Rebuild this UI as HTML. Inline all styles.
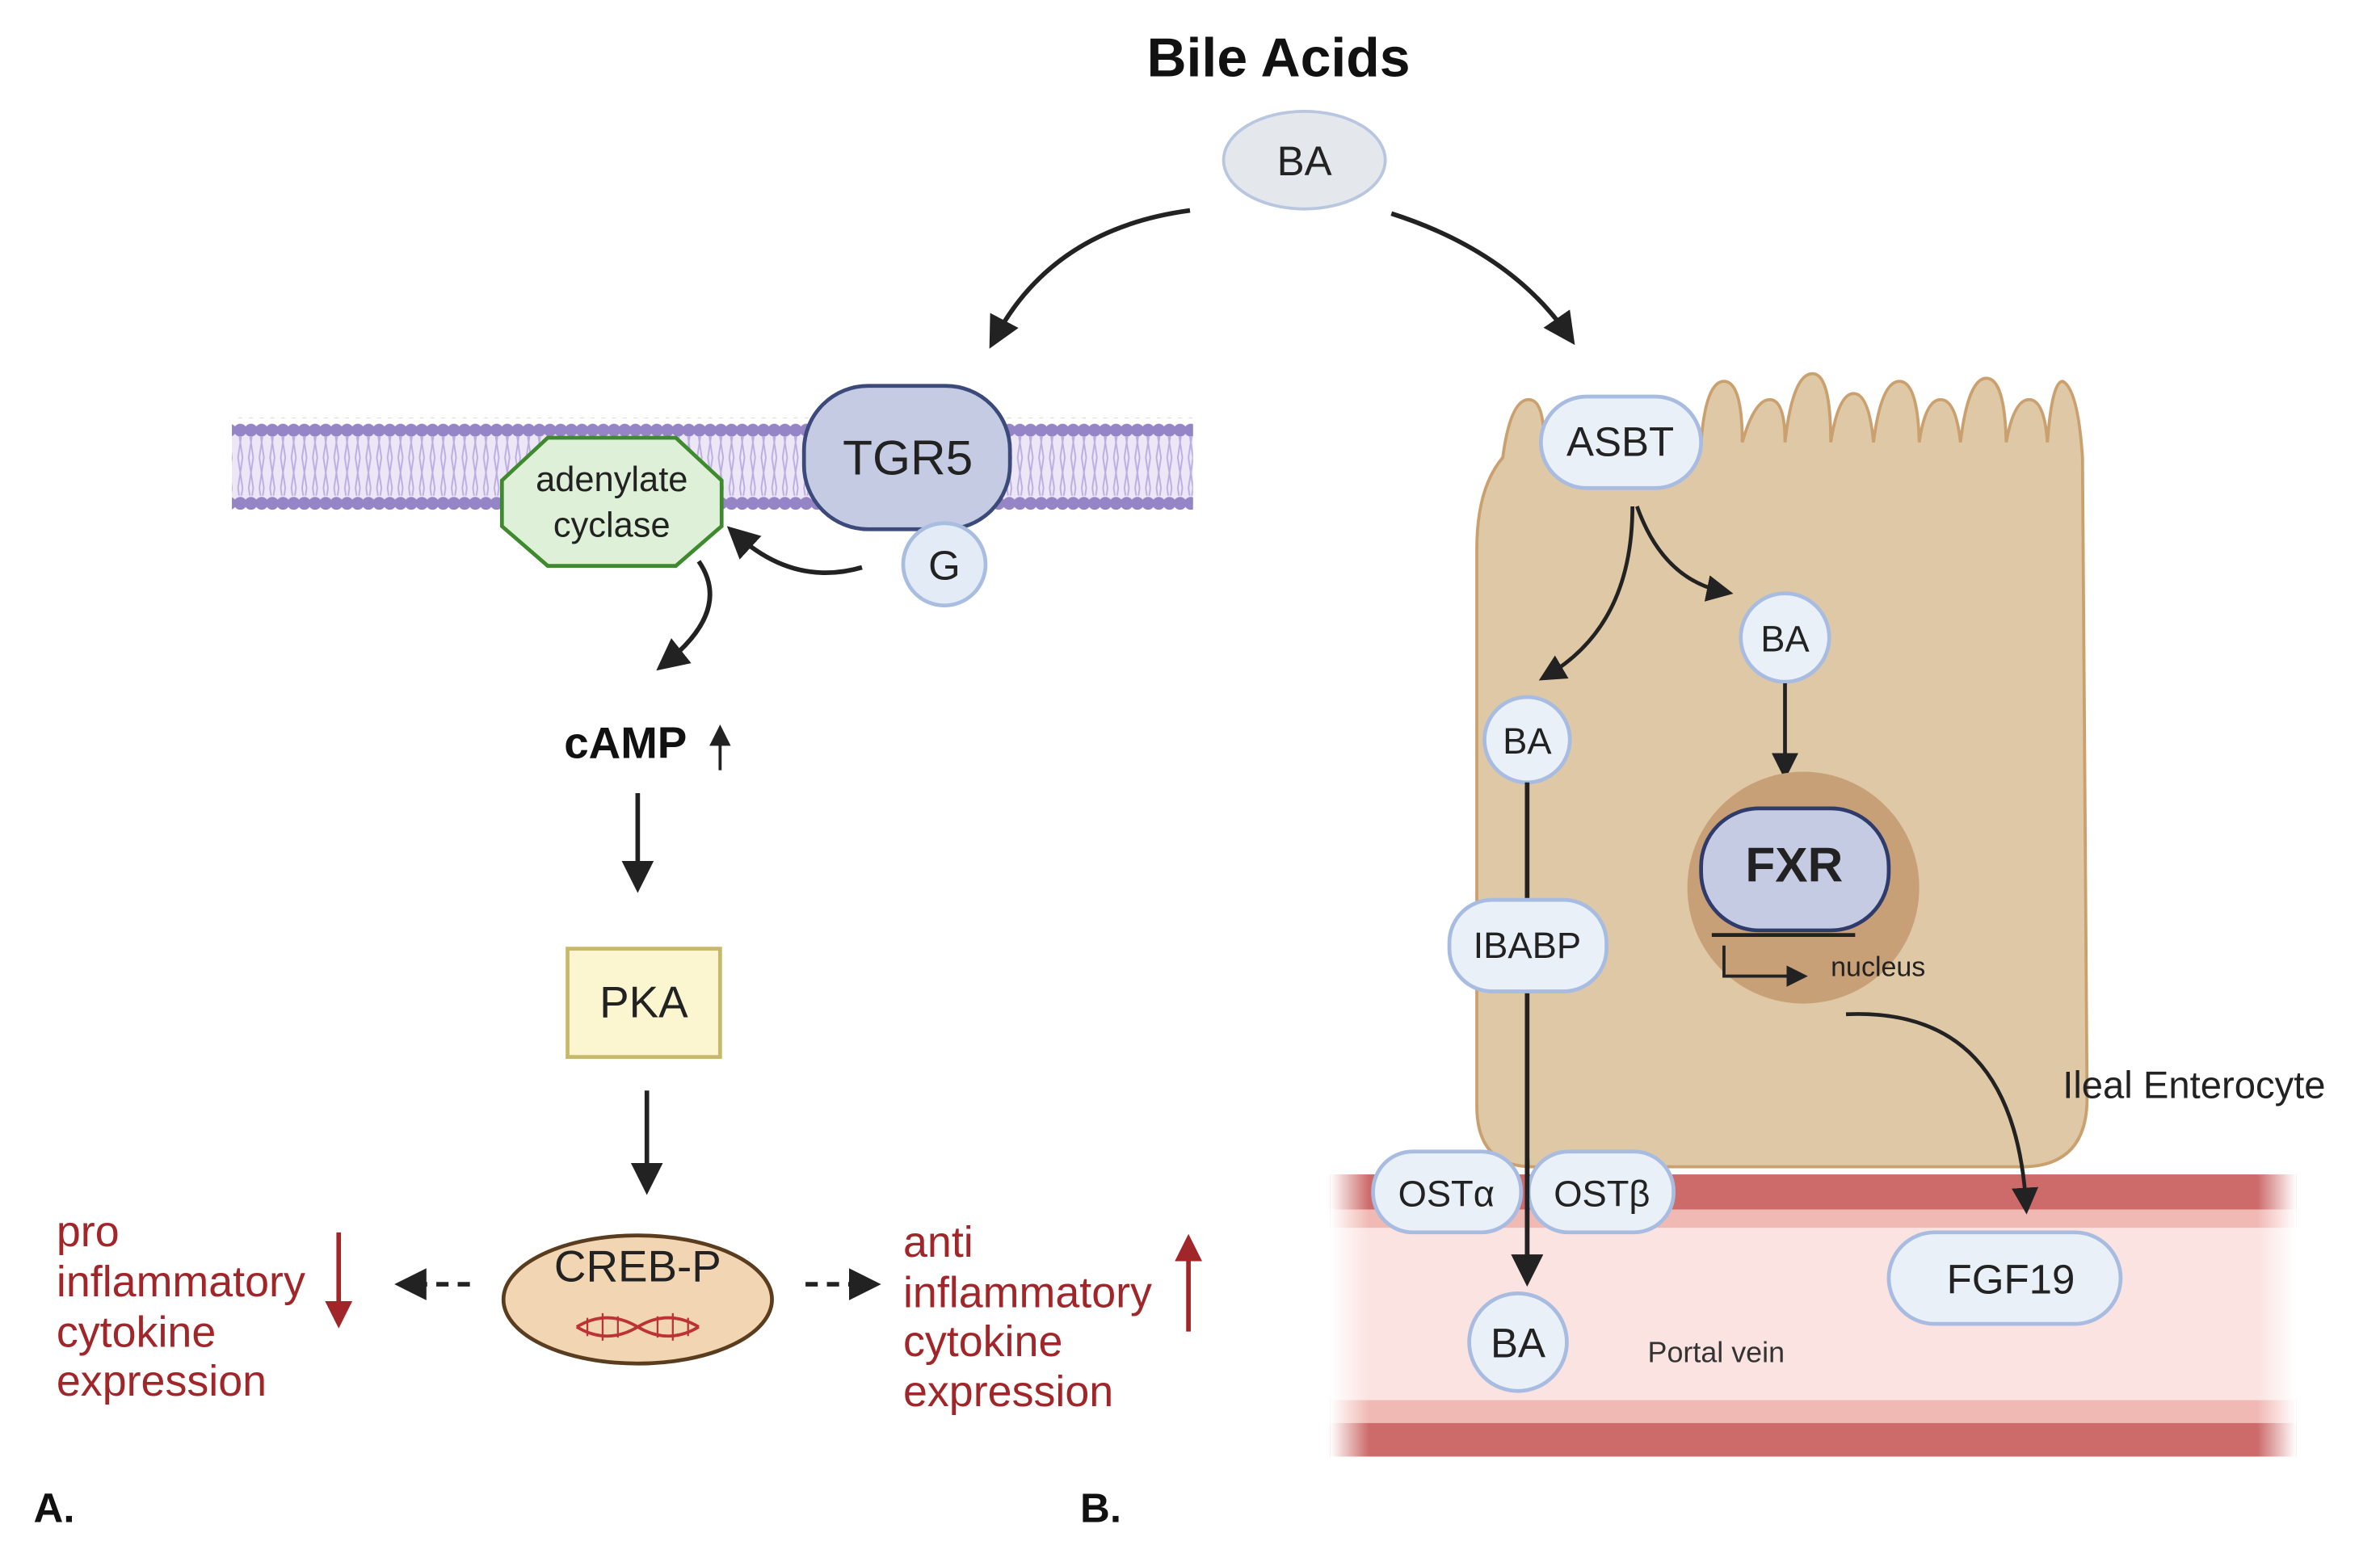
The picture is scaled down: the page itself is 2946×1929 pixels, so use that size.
<!DOCTYPE html>
<html><head><meta charset="utf-8">
<style>html,body{margin:0;padding:0;background:#fff}svg{display:block}text{font-family:"Liberation Sans",sans-serif}</style>
</head><body>
<svg width="2946" height="1929" viewBox="0 0 1560 1021.5" preserveAspectRatio="none" xmlns="http://www.w3.org/2000/svg">
<defs>
<marker id="ah" markerWidth="7" markerHeight="7" refX="4.5" refY="3.5" orient="auto" markerUnits="strokeWidth"><path d="M0,0 L7,3.5 L0,7 z" fill="#222"/></marker>
<marker id="ahr" markerWidth="6" markerHeight="6" refX="4" refY="3" orient="auto" markerUnits="strokeWidth"><path d="M0,0 L6,3 L0,6 z" fill="#a0262a"/></marker>
<pattern id="heads" width="7" height="12" patternUnits="userSpaceOnUse"><circle cx="3.5" cy="6" r="4.2" fill="#9584c6"/></pattern>
<pattern id="tails" width="7" height="40" patternUnits="userSpaceOnUse"><path d="M2,0 L5,20 L2,40 M5,0 L2,20 L5,40" stroke="#b9aee0" stroke-width="1" fill="none"/></pattern>
<linearGradient id="fade" x1="0" x2="1"><stop offset="0" stop-color="#fff" stop-opacity="1"/><stop offset="0.04" stop-color="#fff" stop-opacity="0"/><stop offset="0.96" stop-color="#fff" stop-opacity="0"/><stop offset="1" stop-color="#fff" stop-opacity="1"/></linearGradient>
</defs>

<text x="838" y="50" font-size="36" font-weight="bold" text-anchor="middle" fill="#111">Bile Acids</text>
<ellipse cx="855" cy="105" rx="53" ry="32" fill="#e4e7ec" stroke="#b9c6df" stroke-width="2"/>
<text x="855" y="115" font-size="27" text-anchor="middle" fill="#222">BA</text>
<path d="M780,138 Q690,150 652,222" stroke="#222" stroke-width="3" fill="none" marker-end="url(#ah)"/>
<path d="M912,140 Q990,165 1028,220" stroke="#222" stroke-width="3" fill="none" marker-end="url(#ah)"/>

<rect x="152" y="280" width="630" height="50" fill="#ece6f7"/>
<rect x="152" y="285" width="630" height="40" fill="url(#tails)"/>
<rect x="152" y="274" width="630" height="12" fill="url(#heads)"/>
<rect x="152" y="324" width="630" height="12" fill="url(#heads)"/>

<rect x="527" y="253" width="135" height="94" rx="42" fill="#c5cbe3" stroke="#3b4a7a" stroke-width="2.5"/>
<text x="595" y="311" font-size="32" text-anchor="middle" fill="#222">TGR5</text>
<circle cx="619" cy="370" r="27" fill="#e3ebf7" stroke="#a9bde0" stroke-width="2.5"/>
<text x="619" y="380" font-size="27" text-anchor="middle" fill="#222">G</text>
<polygon points="359,287 443,287 473,315 473,345 443,371 359,371 329,345 329,315" fill="#dff0d8" stroke="#3f8a2f" stroke-width="2.5"/>
<text x="401" y="322" font-size="23" text-anchor="middle" fill="#222">adenylate</text>
<text x="401" y="352" font-size="23" text-anchor="middle" fill="#222">cyclase</text>
<path d="M565,372 Q520,385 482,350" stroke="#222" stroke-width="3" fill="none" marker-end="url(#ah)"/>
<path d="M458,368 Q480,400 436,435" stroke="#222" stroke-width="3" fill="none" marker-end="url(#ah)"/>

<text x="410" y="497" font-size="29" font-weight="bold" text-anchor="middle" fill="#111">cAMP</text>
<line x1="472" y1="505" x2="472" y2="480" stroke="#222" stroke-width="2" marker-end="url(#ah)"/>
<line x1="418" y1="520" x2="418" y2="578" stroke="#222" stroke-width="3" marker-end="url(#ah)"/>
<rect x="372" y="622" width="100" height="71" fill="#fbf6cf" stroke="#c8b86a" stroke-width="2.5"/>
<text x="422" y="667" font-size="29" text-anchor="middle" fill="#222">PKA</text>
<line x1="424" y1="715" x2="424" y2="776" stroke="#222" stroke-width="3" marker-end="url(#ah)"/>
<ellipse cx="418" cy="852" rx="88" ry="42" fill="#f2d5b3" stroke="#5a3c1e" stroke-width="2.5"/>
<text x="418" y="840" font-size="29" text-anchor="middle" fill="#222">CREB-P</text>
<path d="M378,870 Q398,858 418,870 T458,870 M378,870 Q398,882 418,870 T458,870" stroke="#b33" stroke-width="2" fill="none"/>
<path d="M385,864 v12 M395,861 v18 M405,863 v14 M431,863 v14 M441,861 v18 M451,864 v12" stroke="#b33" stroke-width="1.2"/>
<line x1="308" y1="842" x2="266" y2="842" stroke="#222" stroke-width="3" stroke-dasharray="8,6" marker-end="url(#ah)"/>
<line x1="528" y1="842" x2="570" y2="842" stroke="#222" stroke-width="3" stroke-dasharray="8,6" marker-end="url(#ah)"/>

<g font-size="28.5" fill="#a0262a">
<text x="37" y="817">pro</text><text x="37" y="850">inflammatory</text><text x="37" y="883">cytokine</text><text x="37" y="915">expression</text>
<text x="592" y="824">anti</text><text x="592" y="857">inflammatory</text><text x="592" y="889">cytokine</text><text x="592" y="922">expression</text>
</g>
<line x1="222" y1="808" x2="222" y2="865" stroke="#a0262a" stroke-width="3" marker-end="url(#ahr)"/>
<line x1="779" y1="873" x2="779" y2="815" stroke="#a0262a" stroke-width="3" marker-end="url(#ahr)"/>
<text x="22" y="998" font-size="27" font-weight="bold" fill="#111">A.</text>
<text x="708" y="998" font-size="27" font-weight="bold" fill="#111">B.</text>

<rect x="872" y="770" width="633" height="185" fill="#fbe3e1"/>
<rect x="872" y="770" width="633" height="23" fill="#cd6b6b"/>
<rect x="872" y="793" width="633" height="12" fill="#f1b9b4"/>
<rect x="872" y="918" width="633" height="15" fill="#f1b9b4"/>
<rect x="872" y="933" width="633" height="22" fill="#cd6b6b"/>
<rect x="872" y="768" width="633" height="189" fill="url(#fade)"/>

<path d="M1005,765 Q968,765 968,725 L968,360 Q968,320 985,300 Q990,262 1002,262 Q1012,262 1012,290 L1115,290 Q1118,250 1130,250 Q1142,250 1142,290 Q1150,262 1160,262 Q1170,262 1170,290 Q1175,245 1188,245 Q1200,245 1200,290 Q1205,258 1215,258 Q1225,258 1228,290 Q1233,250 1245,250 Q1257,250 1258,290 Q1262,262 1272,262 Q1282,262 1285,290 Q1290,248 1302,248 Q1314,248 1315,290 Q1320,262 1330,262 Q1340,262 1342,290 Q1345,250 1352,250 Q1362,255 1365,300 L1368,720 Q1368,765 1325,765 Z" fill="#dfc8a6" stroke="#c9a06e" stroke-width="2"/>
<rect x="1010" y="260" width="105" height="60" rx="30" fill="#eaf0f8" stroke="#a7bce0" stroke-width="2.5"/>
<text x="1062" y="299" font-size="27" text-anchor="middle" fill="#222">ASBT</text>
<path d="M1070,332 Q1070,410 1014,443" stroke="#222" stroke-width="2.5" fill="none" marker-end="url(#ah)"/>
<path d="M1073,332 Q1090,380 1130,388" stroke="#222" stroke-width="2.5" fill="none" marker-end="url(#ah)"/>
<circle cx="1170" cy="418" r="29" fill="#eaf0f8" stroke="#a7bce0" stroke-width="2.5"/>
<text x="1170" y="427" font-size="24" text-anchor="middle" fill="#222">BA</text>
<circle cx="1001" cy="485" r="28" fill="#eaf0f8" stroke="#a7bce0" stroke-width="2.5"/>
<text x="1001" y="494" font-size="24" text-anchor="middle" fill="#222">BA</text>
<line x1="1170" y1="448" x2="1170" y2="505" stroke="#222" stroke-width="2.5" marker-end="url(#ah)"/>
<circle cx="1182" cy="582" r="76" fill="#c8a078"/>
<rect x="1115" y="530" width="123" height="80" rx="38" fill="#c5cbe3" stroke="#2f3c6b" stroke-width="2.5"/>
<text x="1176" y="578" font-size="32" font-weight="bold" text-anchor="middle" fill="#222">FXR</text>
<line x1="1122" y1="613" x2="1216" y2="613" stroke="#222" stroke-width="2.5"/>
<path d="M1130,620 V640 H1180" stroke="#222" stroke-width="2" fill="none" marker-end="url(#ah)"/>
<text x="1200" y="640" font-size="18" fill="#222">nucleus</text>
<path d="M1210,665 Q1320,660 1328,790" stroke="#222" stroke-width="2.5" fill="none" marker-end="url(#ah)"/>
<text x="1352" y="720" font-size="25" fill="#222">Ileal Enterocyte</text>
<line x1="1001" y1="513" x2="1001" y2="836" stroke="#222" stroke-width="3" marker-end="url(#ah)"/>
<rect x="950" y="590" width="103" height="60" rx="28" fill="#eaf0f8" stroke="#a7bce0" stroke-width="2.5"/>
<text x="1001" y="628" font-size="24" text-anchor="middle" fill="#222">IBABP</text>
<rect x="900" y="755" width="97" height="53" rx="26" fill="#eaf0f8" stroke="#a7bce0" stroke-width="2.5"/>
<text x="948" y="791" font-size="24" text-anchor="middle" fill="#222">OSTα</text>
<rect x="1002" y="755" width="95" height="53" rx="26" fill="#eaf0f8" stroke="#a7bce0" stroke-width="2.5"/>
<text x="1050" y="791" font-size="24" text-anchor="middle" fill="#222">OSTβ</text>
<line x1="1001" y1="760" x2="1001" y2="836" stroke="#222" stroke-width="3" marker-end="url(#ah)"/>
<circle cx="995" cy="880" r="32" fill="#eaf0f8" stroke="#a7bce0" stroke-width="2.5"/>
<text x="995" y="890" font-size="27" text-anchor="middle" fill="#222">BA</text>
<text x="1080" y="893" font-size="19" fill="#333">Portal vein</text>
<rect x="1238" y="808" width="152" height="60" rx="30" fill="#eaf0f8" stroke="#a7bce0" stroke-width="2.5"/>
<text x="1318" y="848" font-size="27" text-anchor="middle" fill="#222">FGF19</text>
</svg>
</body></html>
